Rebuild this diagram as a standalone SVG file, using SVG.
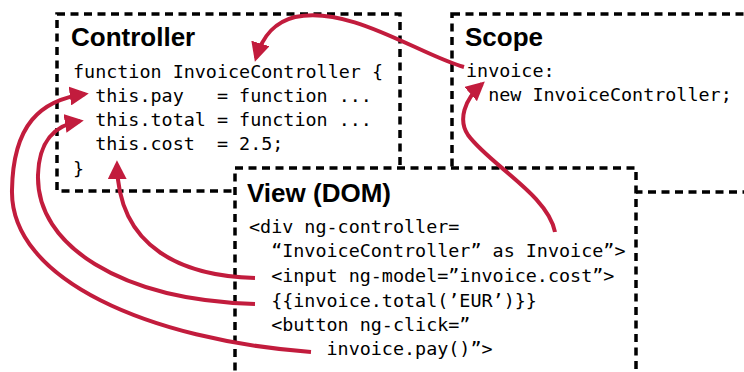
<svg xmlns="http://www.w3.org/2000/svg" width="744" height="372" viewBox="0 0 744 372">
  <style>
    .box { fill: #ffffff; stroke: #000000; stroke-width: 3.5; stroke-dasharray: 8 5.5; }
    .edge { fill: none; stroke: #000000; stroke-width: 3.5; stroke-dasharray: 8 5.5; }
    .title { font-family: "Liberation Sans", Arial, sans-serif; font-weight: bold; font-size: 26px; fill: #000000; }
    .code { font-family: "DejaVu Sans Mono", "Liberation Mono", monospace; font-size: 18.4px; fill: #000000; white-space: pre; }
    .link { fill: none; stroke: #C21C3D; stroke-width: 4; stroke-linecap: butt; }
  </style>
  <defs>
    <marker id="head" viewBox="0 0 10 10" refX="8" refY="5" markerWidth="19" markerHeight="19" markerUnits="userSpaceOnUse" orient="auto">
      <path d="M0,0 L10,5 L0,10 Z" fill="#C21C3D"/>
    </marker>
  </defs>

  <rect width="744" height="372" fill="#ffffff"/>

  <!-- Controller box -->
  <g id="controller">
    <rect class="box" x="57" y="14" width="343" height="177"/>
    <text class="title" x="71" y="46">Controller</text>
    <text class="code" x="73" y="78" xml:space="preserve">function InvoiceController {</text>
    <text class="code" x="73" y="102" xml:space="preserve">  this.pay   = function ...</text>
    <text class="code" x="73" y="126" xml:space="preserve">  this.total = function ...</text>
    <text class="code" x="73" y="150" xml:space="preserve">  this.cost  = 2.5;</text>
    <text class="code" x="73" y="175" xml:space="preserve">}</text>
  </g>

  <!-- Scope box -->
  <g id="scope">
    <rect class="box" x="452" y="14" width="310" height="178"/>
    <text class="title" x="465" y="46">Scope</text>
    <text class="code" x="466" y="77" xml:space="preserve">invoice:</text>
    <text class="code" x="466" y="101" xml:space="preserve">  new InvoiceController;</text>
  </g>

  <!-- View box -->
  <g id="view">
    <rect class="box" x="235" y="168" width="401" height="220"/>
    <text class="title" x="247" y="202">View (DOM)</text>
    <text class="code" x="249" y="233" xml:space="preserve">&lt;div ng-controller=</text>
    <text class="code" x="249" y="257" xml:space="preserve">  “InvoiceController” as Invoice”&gt;</text>
    <text class="code" x="249" y="282" xml:space="preserve">  &lt;input ng-model=”invoice.cost”&gt;</text>
    <text class="code" x="249" y="307" xml:space="preserve">  {{invoice.total(’EUR’)}}</text>
    <text class="code" x="249" y="331" xml:space="preserve">  &lt;button ng-click=”</text>
    <text class="code" x="249" y="355" xml:space="preserve">       invoice.pay()”&gt;</text>
  </g>

  <!-- Connectors -->
  <g id="connectors">
    <path class="link" marker-end="url(#head)" d="M 464 67 C 420 55, 350 5, 295 17 C 275 22, 263 35, 256 58"/>
    <path class="link" marker-end="url(#head)" d="M 555 232 C 548 195, 490 165, 468 135 C 458 120, 464 100, 482 84"/>
    <path class="link" marker-end="url(#head)" d="M 255 278 C 185 276, 118 250, 117 164"/>
    <path class="link" marker-end="url(#head)" d="M 255 304 C 120 300, 36 245, 38 175 C 39 140, 55 125, 80 121"/>
    <path class="link" marker-end="url(#head)" d="M 311 352 C 150 340, 10 280, 12 190 C 13 125, 40 100, 85 94"/>
  </g>
</svg>
